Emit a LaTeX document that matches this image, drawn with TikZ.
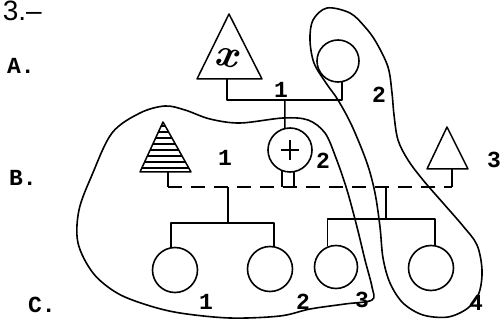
\documentclass[tikz,border=0pt]{standalone}
\usepackage{fontspec}
\newfontfamily\monofnt{Liberation Mono}
\newfontfamily\sansfnt{Liberation Sans}
\begin{document}
\begin{tikzpicture}[x=1pt,y=-1pt,line width=1.5pt,line join=round,
  lab/.style={font=\monofnt\bfseries\fontsize{23}{23}\selectfont,inner sep=0pt},
  person/.style={circle,draw,minimum size=44pt,inner sep=0pt,line width=1.6pt},
  hand/.style={line width=1.6pt},
  dashline/.style={dash pattern=on 14pt off 9pt,line width=1.6pt}]
\useasboundingbox (0,0) rectangle (501,323);

% headings
\node[font=\sansfnt\fontsize{28}{28}\selectfont,anchor=base west,inner sep=0pt] (title) at (2,21) {3.–};
\node[lab] (la) at (21,66) {A.};
\node[lab] (lb) at (23,178) {B.};
\node[lab] (lc) at (42,305) {C.};

% generation A
\draw (229,14) -- (197,79) -- (262,79) -- cycle;
\node[font=\bfseries\itshape\fontsize{40}{40}\selectfont,inner sep=0pt,rotate=-10] (xx) at (226,58) {x};
\coordinate (ta) at (227,79);
\node[person,minimum size=42pt] (a2) at (338,61) {};
\coordinate (m1) at (285,100);
\draw (ta) |- (m1) -| (a2.281);
\node[lab] (l1a) at (281,90) {1};
\node[lab] (l2a) at (379,95) {2};

% generation B
\node[person] (b2) at (290,150) {};
\draw[line width=2.6pt] ([xshift=-9pt]b2.center) -- ([xshift=9pt]b2.center);
\draw[line width=2.6pt] ([yshift=-10pt]b2.center) -- ([yshift=10pt]b2.center);
\draw (m1) -- (b2.103);
\node[lab] (l2b) at (323,161) {2};

% striped tree
\begin{scope}
\clip (163,122) -- (140,172) -- (191,172) -- cycle;
\foreach \yy in {126,132,...,174} \draw[line width=2.6pt] (130,\yy) -- (200,\yy);
\end{scope}
\draw (163,122) -- (140,172) -- (191,172) -- cycle;
\node[lab] (l1b) at (225,158) {1};

% right triangle
\draw (447,127) -- (427,169) -- (468,169) -- cycle;
\node[lab] (l3b) at (494,160) {3};

% marriage line
\coordinate (tb) at (168,172);
\coordinate (tl) at (168,187);
\coordinate (tr) at (452,187);
\coordinate (rb) at (452,169);
\draw (tb) -- (tl);
\draw (rb) -- (tr);
\draw[dashline] (tl) -- (tr);
\draw (b2.249) -- (b2.249 |- tl);
\draw (b2.280) -- (b2.280 |- tl);

% generation C
\node[person,minimum size=45pt] (c1) at (175,270) {};
\node[person,minimum size=45pt] (c2) at (270,269) {};
\node[person,minimum size=43pt] (c3) at (336,267) {};
\node[person,minimum size=45pt] (c4) at (431,268) {};
\coordinate (f1) at (228,187);
\coordinate (h1) at (228,223);
\draw (f1) -- (h1);
\draw (c1.100) |- (h1) -| (c2.80);
\coordinate (f2) at (386,187);
\coordinate (h2) at (386,219);
\draw (f2) -- (h2);
\draw (c3.112) |- (h2) -| (c4.80);
\node[lab] (l1c) at (206,302) {1};
\node[lab] (l2c) at (303,302) {2};
\node[lab] (l3c) at (362,300) {3};
\node[lab] (l4c) at (476,303) {4};

% hand-drawn enclosures
\draw[hand] plot[smooth cycle,tension=0.55] coordinates {
 (92,175) (112,133) (140,113) (165,106) (185,110) (210,119) (240,123)
 (283,118) (308,120) (325,133) (336,158) (347,190) (357,227) (365,260)
 (372,287) (372,300) (345,304) (310,309) (280,316) (230,318) (180,313)
 (147,305) (117,293) (93,273) (78,243) (79,210)};
\draw[hand] plot[smooth cycle,tension=0.55] coordinates {
 (327,8) (350,13) (365,27) (376,42) (388,67) (392,93) (394,115) (398,140)
 (408,160) (423,180) (443,203) (463,226) (477,245) (482,270) (479,293)
 (468,308) (448,317) (423,315) (403,303) (390,283) (383,258) (380,227)
 (375,193) (367,163) (352,126) (338,100) (326,83) (314,63) (310,40) (313,20)};
\end{tikzpicture}
\end{document}
